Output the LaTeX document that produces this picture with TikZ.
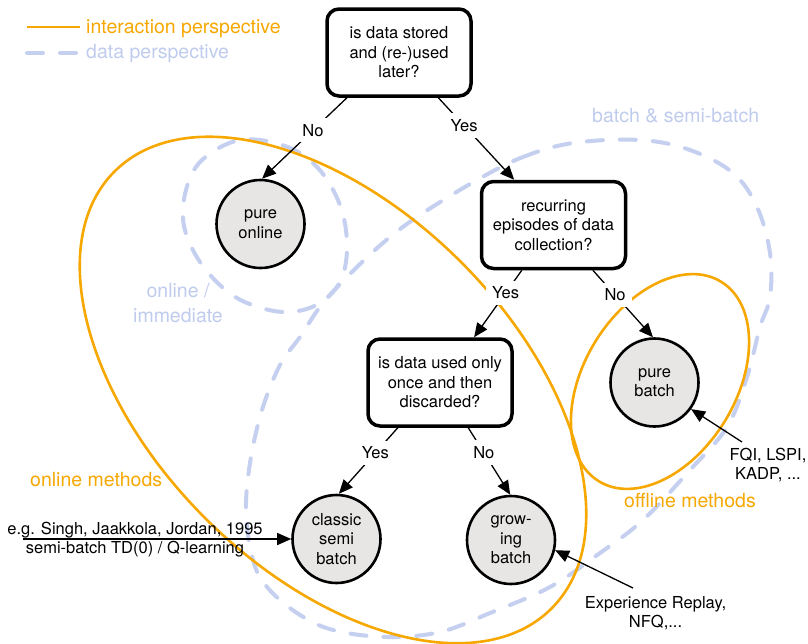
\documentclass[tikz,border=0pt]{standalone}
\usepackage{fontspec}
\setmainfont{TeX Gyre Heros}
\usetikzlibrary{arrows.meta}
\definecolor{ora}{RGB}{247,168,0}
\definecolor{lblue}{RGB}{197,208,240}
\definecolor{lbtext}{RGB}{192,204,238}
\definecolor{ngray}{RGB}{232,230,228}
\newcommand{\dgfont}{\fontsize{16.5}{19.5}\selectfont}
\newcommand{\dglabfont}{\fontsize{19.5}{23.5}\selectfont}
\begin{document}
\begin{tikzpicture}[x=1pt,y=-1pt,
  orangeline/.style={draw=ora, line width=2.6pt},
  blueline/.style={draw=lblue, line width=4pt, line cap=round, dash pattern=on 16pt off 17pt},
  question/.style={draw=black, line width=3.5pt, rounded corners=12pt, fill=white, minimum width=144pt, minimum height=87pt, align=center, font=\dgfont, inner sep=2pt},
  state/.style={circle, draw=black, line width=2.6pt, fill=ngray, minimum size=88pt, inner sep=0pt, align=center, font=\dgfont},
  flow/.style={draw=black, line width=1.3pt, -{Triangle[length=14pt,width=12pt]}},
  elabel/.style={fill=white, inner sep=6pt, font=\dgfont},
  note/.style={align=center, font=\dgfont, inner sep=0pt},
  olabel/.style={text=ora, font=\dglabfont, inner sep=0pt},
  blabel/.style={text=lbtext, font=\dglabfont, inner sep=0pt},
]
\fill[white] (0,0) rectangle (808,643);
\useasboundingbox (0,0) rectangle (808,643);

% data perspective (dashed)
\draw[blueline] plot[smooth cycle, tension=0.6] coordinates {
 (240,140) (285,146) (318,168) (340,205) (347,245) (341,280) (320,303)
 (290,312) (258,307) (228,292) (200,262) (184,226) (186,190) (202,160)};
\draw[blueline] plot[smooth cycle, tension=0.6] coordinates {
 (477,180) (523,157) (573,143) (640,140) (690,150) (733,173) (757,207)
 (770,253) (770,297) (760,327) (747,377) (727,427) (690,470) (643,520)
 (600,553) (550,587) (490,613) (440,632) (387,637) (333,630) (297,613)
 (267,587) (253,560) (246,513) (250,463) (262,410) (280,365) (300,337)
 (323,303) (357,267) (390,237) (423,213)};

% interaction perspective (solid)
\coordinate (onc) at (333,390);
\coordinate (ofc) at (660,381.5);
\draw[orangeline, rotate around={-45:(onc)}] (onc) ellipse [x radius=309pt, y radius=181pt];
\draw[orangeline, rotate around={58.5:(ofc)}] (ofc) ellipse [x radius=117pt, y radius=76pt];

% legend
\coordinate (l1a) at (27,27);
\coordinate (l1b) at (80,27);
\coordinate (l2a) at (27,53);
\coordinate (l2b) at (80,53);
\draw[orangeline] (l1a) -- (l1b);
\draw[blueline] (l2a) -- (l2b);
\node[olabel, anchor=base west] (lg1) at (86,33) {interaction perspective};
\node[blabel, anchor=base west] (lg2) at (86,58) {data perspective};

% region labels
\node[blabel, anchor=base west] (bsb) at (592,122) {batch \& semi-batch};
\node[blabel, anchor=base] (oi1) at (178,297) {online /};
\node[blabel, anchor=base] (oi2) at (178,322) {immediate};
\node[olabel, anchor=base west] (onm) at (30,486) {online methods};
\node[olabel, anchor=base west] (ofm) at (624,507) {offline methods};

% decision boxes
\node[question] (b1) at (399,52.5) {is data stored\\and (re-)used\\later?};
\node[question] (b2) at (553.5,225) {recurring\\episodes of data\\collection?};
\node[question] (b3) at (440,382.5) {is data used only\\once and then\\discarded?};

% states
\node[state] (po) at (260.5,224) {pure\\online};
\node[state] (pb) at (654.5,382.5) {pure\\batch};
\node[state] (csb) at (336.5,539) {classic\\semi\\batch};
\node[state] (gb) at (511,540) {grow-\\ing\\batch};

% decisions
\draw[flow] (b1.221.5) -- node[elabel, pos=0.4] {No} (po.88);
\draw[flow] (b1.311.7) -- node[elabel, pos=0.34] {Yes} (b2.131.8);
\draw[flow] (b2.235) -- node[elabel, pos=0.34] {Yes} (b3.53);
\draw[flow] (b2.311.8) -- node[elabel, pos=0.37] {No} (pb.92);
\draw[flow] (b3.227.8) -- node[elabel, pos=0.38] {Yes} (csb.87.5);
\draw[flow] (b3.302.3) -- node[elabel, pos=0.37] {No} (gb.91);

% annotations
\node[note] (ann1) at (135,539.5) {e.g. Singh, Jaakkola, Jordan, 1995\\semi-batch TD(0) / Q-learning};
\coordinate (a1s) at (23,539);
\draw[flow] (a1s) -- (csb.180);
\node[note] (fqi) at (768,465) {FQI, LSPI,\\KADP, ...};
\coordinate (a2s) at (742,442);
\draw[flow] (a2s) -- (pb.324.6);
\node[note] (exr) at (655.5,613) {Experience Replay,\\NFQ,...};
\coordinate (a3s) at (633,588);
\draw[flow] (a3s) -- (gb.347.7);
\end{tikzpicture}
\end{document}
